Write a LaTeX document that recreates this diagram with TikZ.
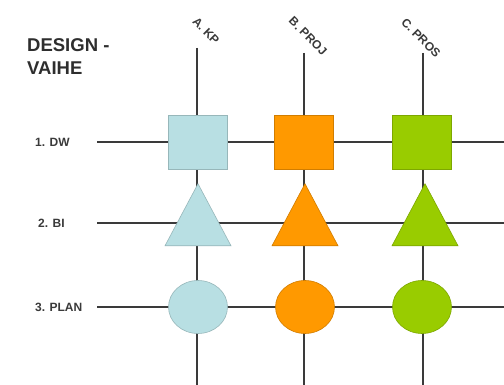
\documentclass[tikz,border=0pt]{standalone}
\usepackage{fontspec}
\setmainfont{Liberation Sans}
\usetikzlibrary{shapes.geometric}

\definecolor{ink}{HTML}{3A3A3A}
\definecolor{lblue}{HTML}{B8DFE3}
\definecolor{orng}{HTML}{FF9900}
\definecolor{lgreen}{HTML}{99CC00}

\tikzset{
  gridline/.style={draw=ink, line width=1.8pt},
  cell/.style={draw=#1!82!black, fill=#1, line width=0.6pt, inner sep=0pt},
  sq/.style={cell=#1, rectangle, minimum width=59pt, minimum height=54pt},
  tri/.style={cell=#1, isosceles triangle, shape border rotate=90,
    isosceles triangle stretches, minimum width=66pt, minimum height=62pt,
    anchor=apex},
  disc/.style={cell=#1, ellipse, minimum width=59pt, minimum height=53pt},
  rowlab/.style={font=\bfseries\fontsize{12}{14}\selectfont, text=ink,
    anchor=west, inner sep=0pt},
  collab/.style={font=\bfseries\fontsize{12}{14}\selectfont, text=ink,
    rotate=-45, inner sep=0pt},
  title/.style={font=\bfseries\fontsize{18.5}{22}\selectfont, text=ink!80!black,
    anchor=base west, inner sep=0pt},
}

\begin{document}
\begin{tikzpicture}[x=1pt, y=-1pt]
  \fill[white] (0,0) rectangle (504,385);
  \useasboundingbox (0,0) rectangle (504,385);

  % heading
  \node[title] (t1) at (27,52) {DESIGN -};
  \node[title] (t2) at (27,75) {VAIHE};

  % line ends of the grid
  \coordinate (topA) at (197,48);
  \coordinate (topB) at (304,53);
  \coordinate (topC) at (423,53);
  \coordinate (botA) at (197,385);
  \coordinate (botB) at (304,385);
  \coordinate (botC) at (423,385);
  \coordinate (w1) at (97,142);
  \coordinate (w2) at (97,223);
  \coordinate (w3) at (97,307);
  \coordinate (e1) at (504,142);
  \coordinate (e2) at (504,223);
  \coordinate (e3) at (504,307);

  % grid lines
  \draw[gridline] (topA) -- (botA);
  \draw[gridline] (topB) -- (botB);
  \draw[gridline] (topC) -- (botC);
  \draw[gridline] (w1) -- (e1);
  \draw[gridline] (w2) -- (e2);
  \draw[gridline] (w3) -- (e3);

  % column headings
  \node[collab] (colA) at (206,31) {A. KP};
  \node[collab] (colB) at (308,36) {B. PROJ};
  \node[collab] (colC) at (421,38) {C. PROS};

  % row headings
  \node[rowlab] (rowDW) at (35,142) {1. DW};
  \node[rowlab] (rowBI) at (38,223) {2. BI};
  \node[rowlab] (rowPL) at (35,307) {3. PLAN};

  % row 1: squares
  \node[sq=lblue] (dwA) at (198,142) {};
  \node[sq=orng]  (dwB) at (304,142) {};
  \node[sq=lgreen](dwC) at (422,142) {};

  % row 2: triangles
  \node[tri=lblue] (biA) at (198,183) {};
  \node[tri=orng]  (biB) at (305,183) {};
  \node[tri=lgreen](biC) at (425,183) {};

  % row 3: ellipses
  \node[disc=lblue] (plA) at (198,307) {};
  \node[disc=orng]  (plB) at (305,307) {};
  \node[disc=lgreen](plC) at (422,307) {};
\end{tikzpicture}
\end{document}
